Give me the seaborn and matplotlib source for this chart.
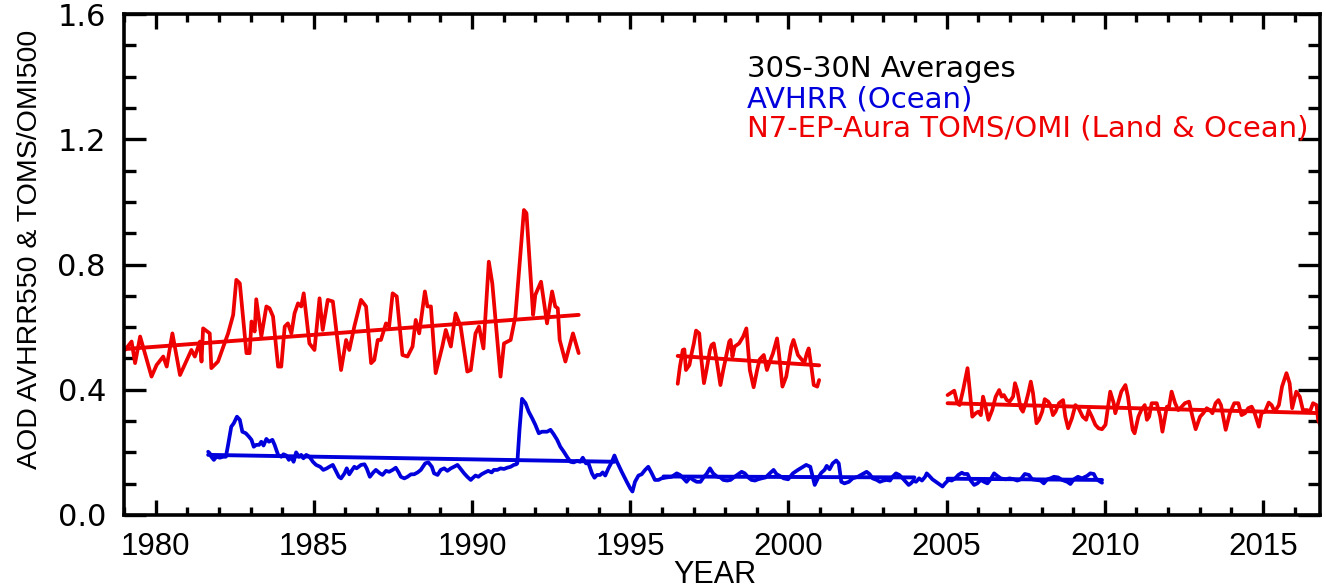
import matplotlib
matplotlib.use("Agg")
import pandas as pd
import matplotlib.pyplot as plt
import seaborn as sns
from matplotlib.ticker import MultipleLocator

# N7 TOMS segment (red)
red1_year = [1979.03, 1979.24, 1979.35, 1979.51, 1979.87, 1980.03, 1980.24, 1980.35, 1980.53, 1980.77,
             1981.13, 1981.24, 1981.40, 1981.45, 1981.50, 1981.71, 1981.76, 1981.97, 1982.29, 1982.45,
             1982.55, 1982.66, 1982.87, 1982.97, 1983.03, 1983.13, 1983.18, 1983.34, 1983.50, 1983.60,
             1983.71, 1983.87, 1983.97, 1984.08, 1984.18, 1984.29, 1984.39, 1984.50, 1984.60, 1984.68,
             1984.86, 1985.02, 1985.18, 1985.28, 1985.44, 1985.60, 1985.86, 1986.02, 1986.12, 1986.28,
             1986.49, 1986.65, 1986.81, 1986.91, 1987.02, 1987.12, 1987.28, 1987.38, 1987.49, 1987.62,
             1987.80, 1987.96, 1988.12, 1988.22, 1988.33, 1988.51, 1988.59, 1988.70, 1988.85, 1989.06,
             1989.17, 1989.33, 1989.48, 1989.64, 1989.85, 1989.96, 1990.11, 1990.22, 1990.36, 1990.53,
             1990.64, 1990.90, 1991.01, 1991.22, 1991.37, 1991.64, 1991.72, 1991.93, 1992.00, 1992.18,
             1992.37, 1992.53, 1992.63, 1992.71, 1992.77, 1992.95, 1993.19, 1993.37]
red1_aod = [0.527, 0.554, 0.485, 0.570, 0.442, 0.479, 0.506, 0.474, 0.580, 0.447,
            0.527, 0.506, 0.554, 0.490, 0.596, 0.580, 0.469, 0.490, 0.580, 0.639,
            0.751, 0.740, 0.517, 0.517, 0.618, 0.586, 0.689, 0.570, 0.666, 0.660,
            0.634, 0.474, 0.474, 0.602, 0.612, 0.580, 0.644, 0.676, 0.666, 0.708,
            0.548, 0.527, 0.692, 0.591, 0.687, 0.682, 0.463, 0.559, 0.527, 0.602,
            0.687, 0.666, 0.485, 0.495, 0.559, 0.559, 0.612, 0.602, 0.708, 0.698,
            0.511, 0.506, 0.538, 0.623, 0.580, 0.714, 0.666, 0.666, 0.453, 0.538,
            0.591, 0.538, 0.644, 0.602, 0.458, 0.463, 0.580, 0.602, 0.532, 0.809,
            0.740, 0.442, 0.548, 0.559, 0.634, 0.974, 0.964, 0.639, 0.703, 0.745,
            0.612, 0.714, 0.666, 0.660, 0.559, 0.490, 0.580, 0.517]

# Earth Probe TOMS segment (red)
red2_year = [1996.50, 1996.57, 1996.66, 1996.71, 1996.76, 1996.87, 1996.94, 1997.01, 1997.08, 1997.18,
             1997.25, 1997.33, 1997.41, 1997.52, 1997.57, 1997.64, 1997.73, 1997.85, 1997.94, 1998.04,
             1998.13, 1998.17, 1998.23, 1998.30, 1998.44, 1998.57, 1998.67, 1998.78, 1998.90, 1999.01,
             1999.09, 1999.22, 1999.32, 1999.43, 1999.51, 1999.64, 1999.70, 1999.81, 1999.93, 2000.09,
             2000.16, 2000.30, 2000.43, 2000.50, 2000.58, 2000.64, 2000.73, 2000.80, 2000.91, 2000.97]
red2_aod = [0.419, 0.474, 0.527, 0.529, 0.463, 0.479, 0.516, 0.548, 0.589, 0.580,
            0.495, 0.421, 0.463, 0.527, 0.543, 0.548, 0.495, 0.415, 0.463, 0.511,
            0.554, 0.559, 0.506, 0.538, 0.548, 0.570, 0.596, 0.463, 0.408, 0.463,
            0.497, 0.511, 0.463, 0.495, 0.516, 0.564, 0.516, 0.410, 0.442, 0.538,
            0.559, 0.511, 0.495, 0.485, 0.516, 0.532, 0.469, 0.415, 0.410, 0.431]

# Aura OMI segment (red)
red3_year = [2005.03, 2005.24, 2005.34, 2005.41, 2005.52, 2005.66, 2005.73, 2005.81, 2005.92, 2006.00,
             2006.08, 2006.15, 2006.23, 2006.32, 2006.44, 2006.55, 2006.66, 2006.74, 2006.81, 2006.90,
             2006.99, 2007.10, 2007.16, 2007.23, 2007.34, 2007.41, 2007.50, 2007.58, 2007.66, 2007.73,
             2007.84, 2007.92, 2008.02, 2008.10, 2008.21, 2008.28, 2008.36, 2008.44, 2008.55, 2008.68,
             2008.75, 2008.84, 2008.96, 2009.07, 2009.17, 2009.30, 2009.41, 2009.49, 2009.59, 2009.70,
             2009.80, 2009.91, 2010.02, 2010.17, 2010.28, 2010.33, 2010.52, 2010.65, 2010.73, 2010.80,
             2010.88, 2010.94, 2011.06, 2011.15, 2011.26, 2011.33, 2011.40, 2011.48, 2011.64, 2011.75,
             2011.82, 2011.96, 2012.03, 2012.11, 2012.22, 2012.32, 2012.43, 2012.53, 2012.66, 2012.77,
             2012.87, 2013.01, 2013.11, 2013.22, 2013.32, 2013.40, 2013.50, 2013.59, 2013.67, 2013.82,
             2013.95, 2014.09, 2014.22, 2014.32, 2014.43, 2014.53, 2014.64, 2014.72, 2014.87, 2014.95,
             2015.06, 2015.18, 2015.27, 2015.37, 2015.50, 2015.60, 2015.74, 2015.84, 2015.92, 2016.05,
             2016.16, 2016.26, 2016.40, 2016.48, 2016.58, 2016.69, 2016.74, 2016.85, 2016.90]
red3_aod = [0.383, 0.397, 0.357, 0.351, 0.399, 0.469, 0.399, 0.314, 0.325, 0.330,
            0.319, 0.378, 0.346, 0.304, 0.335, 0.378, 0.399, 0.378, 0.383, 0.367,
            0.362, 0.378, 0.421, 0.399, 0.341, 0.330, 0.357, 0.389, 0.426, 0.389,
            0.293, 0.304, 0.330, 0.370, 0.362, 0.351, 0.319, 0.330, 0.357, 0.367,
            0.314, 0.277, 0.309, 0.351, 0.341, 0.314, 0.304, 0.335, 0.314, 0.288,
            0.277, 0.274, 0.288, 0.394, 0.357, 0.325, 0.394, 0.415, 0.378, 0.325,
            0.272, 0.261, 0.314, 0.335, 0.351, 0.304, 0.314, 0.357, 0.357, 0.314,
            0.266, 0.346, 0.346, 0.394, 0.357, 0.335, 0.346, 0.357, 0.362, 0.314,
            0.274, 0.314, 0.325, 0.341, 0.335, 0.325, 0.357, 0.367, 0.351, 0.272,
            0.325, 0.357, 0.357, 0.319, 0.325, 0.341, 0.346, 0.330, 0.282, 0.325,
            0.330, 0.359, 0.351, 0.330, 0.351, 0.410, 0.453, 0.421, 0.341, 0.394,
            0.378, 0.335, 0.335, 0.330, 0.357, 0.351, 0.304, 0.277, 0.288]

# AVHRR ocean (blue), one continuous record
blue_year = [1981.66, 1981.71, 1981.76, 1981.84, 1981.92, 1982.03, 1982.13, 1982.22, 1982.29, 1982.39,
             1982.47, 1982.57, 1982.66, 1982.74, 1982.85, 1982.95, 1983.03, 1983.10, 1983.18, 1983.27,
             1983.34, 1983.41, 1983.50, 1983.58, 1983.69, 1983.76, 1983.87, 1983.97, 1984.04, 1984.13,
             1984.21, 1984.29, 1984.36, 1984.44, 1984.53, 1984.60, 1984.67, 1984.76, 1984.86, 1984.97,
             1985.07, 1985.20, 1985.30, 1985.41, 1985.49, 1985.60, 1985.68, 1985.79, 1985.86, 1985.97,
             1986.04, 1986.12, 1986.21, 1986.28, 1986.35, 1986.49, 1986.60, 1986.67, 1986.77, 1986.88,
             1986.96, 1987.09, 1987.17, 1987.28, 1987.38, 1987.49, 1987.59, 1987.68, 1987.75, 1987.86,
             1987.96, 1988.07, 1988.17, 1988.28, 1988.38, 1988.52, 1988.62, 1988.73, 1988.80, 1988.91,
             1989.01, 1989.12, 1989.22, 1989.33, 1989.43, 1989.54, 1989.64, 1989.75, 1989.85, 1989.96,
             1990.03, 1990.11, 1990.20, 1990.30, 1990.41, 1990.51, 1990.62, 1990.69, 1990.80, 1990.90,
             1991.01, 1991.11, 1991.22, 1991.32, 1991.40, 1991.43, 1991.50, 1991.58, 1991.69, 1991.79,
             1991.90, 1992.00, 1992.11, 1992.21, 1992.37, 1992.48, 1992.58, 1992.69, 1992.79, 1992.90,
             1993.00, 1993.11, 1993.21, 1993.32, 1993.42, 1993.50, 1993.60, 1993.68, 1993.79, 1993.87,
             1993.95, 1994.05, 1994.13, 1994.21, 1994.31, 1994.42, 1994.50, 1994.58, 1994.73, 1994.89,
             1995.00, 1995.07, 1995.15, 1995.26, 1995.36, 1995.47, 1995.57, 1995.68, 1995.78, 1995.89,
             1995.99, 1996.10, 1996.15, 1996.31, 1996.47, 1996.57, 1996.68, 1996.78, 1996.89, 1996.99,
             1997.10, 1997.22, 1997.33, 1997.41, 1997.52, 1997.62, 1997.75, 1997.85, 1997.94, 1998.06,
             1998.17, 1998.27, 1998.38, 1998.52, 1998.62, 1998.73, 1998.83, 1998.94, 1999.04, 1999.15,
             1999.28, 1999.41, 1999.53, 1999.62, 1999.72, 1999.85, 1999.99, 2000.14, 2000.30, 2000.46,
             2000.56, 2000.69, 2000.83, 2000.93, 2001.04, 2001.14, 2001.21, 2001.30, 2001.40, 2001.51,
             2001.59, 2001.67, 2001.77, 2001.91, 2002.03, 2002.19, 2002.35, 2002.47, 2002.56, 2002.66,
             2002.79, 2002.89, 2003.00, 2003.10, 2003.21, 2003.29, 2003.40, 2003.50, 2003.61, 2003.71,
             2003.80, 2003.87, 2003.95, 2004.03, 2004.13, 2004.22, 2004.32, 2004.37, 2004.45, 2004.55,
             2004.66, 2004.76, 2004.87, 2004.95, 2005.06, 2005.16, 2005.27, 2005.37, 2005.48, 2005.55,
             2005.66, 2005.76, 2005.87, 2005.97, 2006.08, 2006.18, 2006.29, 2006.39, 2006.50, 2006.60,
             2006.71, 2006.86, 2006.99, 2007.13, 2007.23, 2007.34, 2007.47, 2007.60, 2007.70, 2007.83,
             2007.97, 2008.07, 2008.18, 2008.28, 2008.39, 2008.52, 2008.65, 2008.81, 2008.91, 2009.02,
             2009.15, 2009.28, 2009.44, 2009.54, 2009.65, 2009.72, 2009.80, 2009.91]
blue_aod = [0.202, 0.197, 0.186, 0.176, 0.186, 0.183, 0.186, 0.186, 0.224, 0.282,
            0.293, 0.314, 0.304, 0.266, 0.261, 0.250, 0.240, 0.218, 0.224, 0.224,
            0.234, 0.222, 0.243, 0.234, 0.240, 0.224, 0.192, 0.186, 0.194, 0.190,
            0.176, 0.186, 0.170, 0.200, 0.186, 0.192, 0.181, 0.192, 0.186, 0.170,
            0.160, 0.154, 0.144, 0.149, 0.154, 0.160, 0.144, 0.122, 0.117, 0.133,
            0.149, 0.130, 0.144, 0.154, 0.149, 0.160, 0.162, 0.149, 0.122, 0.136,
            0.144, 0.133, 0.128, 0.141, 0.138, 0.144, 0.151, 0.136, 0.122, 0.117,
            0.122, 0.130, 0.130, 0.136, 0.144, 0.165, 0.168, 0.154, 0.133, 0.128,
            0.144, 0.149, 0.141, 0.149, 0.154, 0.160, 0.147, 0.133, 0.122, 0.112,
            0.119, 0.126, 0.122, 0.130, 0.136, 0.141, 0.136, 0.144, 0.144, 0.149,
            0.147, 0.151, 0.154, 0.160, 0.162, 0.165, 0.272, 0.371, 0.357, 0.330,
            0.309, 0.288, 0.261, 0.266, 0.266, 0.272, 0.258, 0.240, 0.218, 0.202,
            0.186, 0.170, 0.168, 0.173, 0.170, 0.183, 0.165, 0.165, 0.133, 0.119,
            0.128, 0.128, 0.136, 0.126, 0.149, 0.170, 0.190, 0.170, 0.138, 0.106,
            0.085, 0.075, 0.106, 0.126, 0.130, 0.144, 0.154, 0.133, 0.112, 0.112,
            0.117, 0.119, 0.120, 0.122, 0.133, 0.128, 0.117, 0.106, 0.120, 0.112,
            0.106, 0.106, 0.122, 0.131, 0.149, 0.133, 0.122, 0.120, 0.112, 0.110,
            0.112, 0.120, 0.128, 0.138, 0.133, 0.120, 0.112, 0.110, 0.114, 0.117,
            0.120, 0.133, 0.144, 0.131, 0.125, 0.117, 0.114, 0.133, 0.144, 0.154,
            0.160, 0.154, 0.096, 0.117, 0.135, 0.144, 0.157, 0.146, 0.165, 0.174,
            0.165, 0.106, 0.101, 0.106, 0.117, 0.122, 0.131, 0.138, 0.131, 0.117,
            0.112, 0.106, 0.110, 0.112, 0.110, 0.122, 0.133, 0.128, 0.117, 0.106,
            0.096, 0.101, 0.110, 0.106, 0.117, 0.110, 0.122, 0.133, 0.125, 0.114,
            0.106, 0.099, 0.091, 0.101, 0.112, 0.110, 0.117, 0.128, 0.135, 0.131,
            0.131, 0.110, 0.096, 0.101, 0.112, 0.106, 0.101, 0.114, 0.133, 0.125,
            0.117, 0.114, 0.117, 0.114, 0.110, 0.114, 0.131, 0.128, 0.114, 0.112,
            0.110, 0.101, 0.114, 0.117, 0.122, 0.120, 0.112, 0.106, 0.099, 0.114,
            0.122, 0.117, 0.125, 0.133, 0.131, 0.117, 0.110, 0.103]

# linear trend lines (end points)
red_trend_year = [[1979.03, 1993.37], [1996.50, 2000.97], [2005.03, 2016.90]]
red_trend_aod = [[0.530, 0.639], [0.508, 0.478], [0.357, 0.325]]
blue_trend_year = [[1981.66, 1994.50], [1996.05, 2003.98], [2005.03, 2009.91]]
blue_trend_aod = [[0.192, 0.170], [0.123, 0.120], [0.116, 0.112]]

x_ticks = [1980, 1985, 1990, 1995, 2000, 2005, 2010, 2015]
y_ticks = [0.0, 0.4, 0.8, 1.2, 1.6]

sns.set_style("ticks")
plt.rcParams['font.family'] = ['Liberation Sans', 'DejaVu Sans']
plt.rcParams['text.color'] = 'black'
plt.rcParams['axes.labelcolor'] = 'black'
plt.rcParams['xtick.color'] = 'black'
plt.rcParams['ytick.color'] = 'black'

RED = '#ee0000'
BLUE = '#0000dd'

fig = plt.figure(figsize=(13.26, 5.87), dpi=100)
ax = fig.add_axes([124 / 1326, 72 / 587, 1196 / 1326, 501 / 587])


def draw(years, vals, color, lw):
    df = pd.DataFrame({'year': years, 'aod': vals})
    sns.lineplot(data=df, x='year', y='aod', ax=ax, color=color, linewidth=lw,
                 estimator=None, sort=False, legend=False)


draw(blue_year, blue_aod, BLUE, 2.7)
for yr, v in [(red1_year, red1_aod), (red2_year, red2_aod), (red3_year, red3_aod)]:
    draw(yr, v, RED, 2.7)
for yr, v in zip(blue_trend_year, blue_trend_aod):
    draw(yr, v, BLUE, 2.8)
for yr, v in zip(red_trend_year, red_trend_aod):
    draw(yr, v, RED, 2.8)

ax.set_xlim(1979.0, 2016.8)
ax.set_ylim(0.0, 1.6)
ax.set_xticks(x_ticks)
ax.set_xticklabels([str(t) for t in x_ticks], fontsize=22.5)
ax.set_yticks(y_ticks)
ax.set_yticklabels(['%.1f' % t for t in y_ticks], fontsize=22, family='DejaVu Sans')
ax.xaxis.set_minor_locator(MultipleLocator(1))
ax.yaxis.set_minor_locator(MultipleLocator(0.1))

ax.tick_params(which='both', direction='in', top=True, right=True, color='black', width=2.4)
ax.tick_params(axis='x', which='major', length=11, pad=12)
ax.tick_params(axis='x', which='minor', length=5.5)
ax.tick_params(axis='y', which='major', length=16, pad=13)
ax.tick_params(axis='y', which='minor', length=8.5)
for sp in ax.spines.values():
    sp.set_linewidth(2.6)
    sp.set_color('black')

ax.set_xlabel('YEAR', fontsize=22)
ax.xaxis.set_label_coords(0.494, -0.089)
ax.set_ylabel('AOD AVHRR550 & TOMS/OMI500', fontsize=20.5)
ax.yaxis.set_label_coords(-0.068, 0.53)

ax.text(0.521, 0.874, '30S-30N Averages', transform=ax.transAxes, fontsize=21,
        color='black', va='baseline', family='DejaVu Sans')
ax.text(0.521, 0.814, 'AVHRR (Ocean)', transform=ax.transAxes, fontsize=21,
        color=BLUE, va='baseline', family='DejaVu Sans')
ax.text(0.521, 0.756, 'N7-EP-Aura TOMS/OMI (Land & Ocean)', transform=ax.transAxes,
        fontsize=21, color=RED, va='baseline', family='DejaVu Sans')

fig.savefig('out.png', dpi=100)
